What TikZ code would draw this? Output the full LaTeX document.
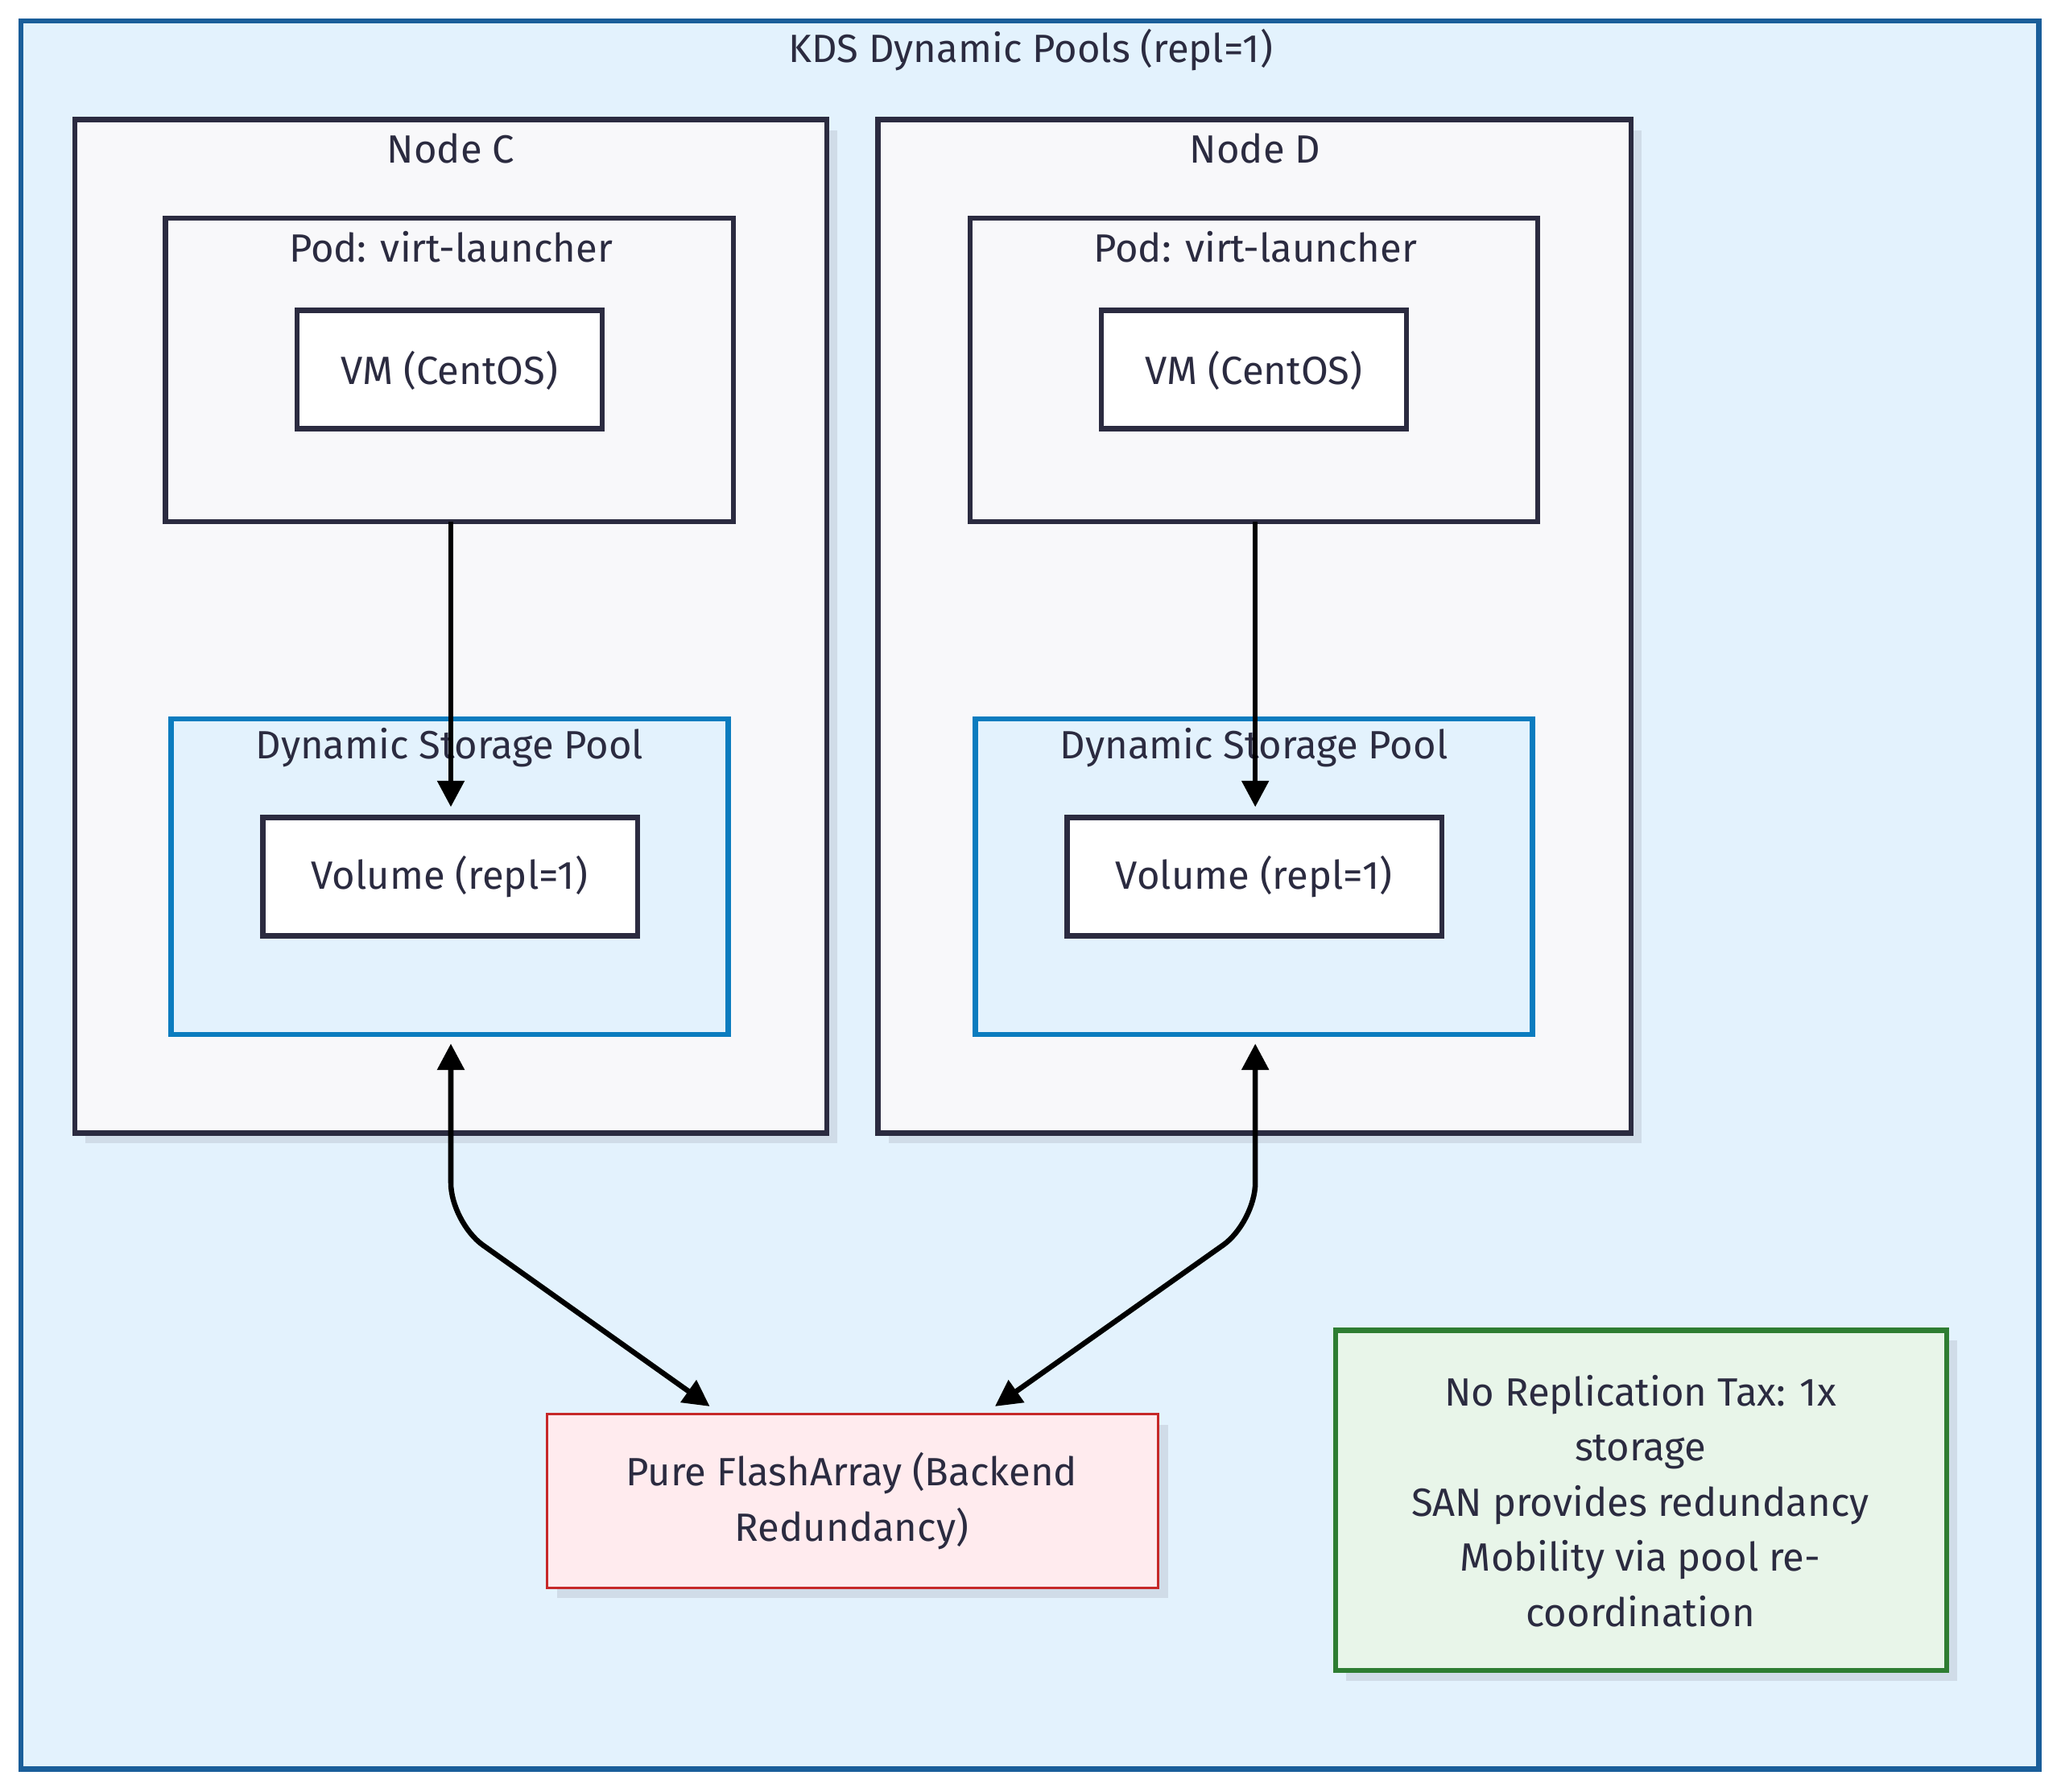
\documentclass[tikz,border=0pt]{standalone}
\usepackage{fontspec}
\setmainfont{Fira Sans}
\usetikzlibrary{arrows.meta}
\definecolor{outerfill}{HTML}{E3F2FD}
\definecolor{outerdraw}{HTML}{1A5E9A}
\definecolor{nodefill}{HTML}{F8F8FA}
\definecolor{dark}{HTML}{2B2B40}
\definecolor{pooldraw}{HTML}{0B7CBF}
\definecolor{shadow}{HTML}{D0DCE8}
\definecolor{fafill}{HTML}{FFEBEE}
\definecolor{fadraw}{HTML}{C62828}
\definecolor{notefill}{HTML}{E8F5E9}
\definecolor{notedraw}{HTML}{2E7D32}
\begin{document}
\begin{tikzpicture}[x=1pt,y=-1pt,
  lbl/.style={text=dark,font=\fontsize{30}{42}\selectfont},
  box/.style={draw=dark,line width=4pt},
  shad/.style={fill=shadow},
  arr/.style={line width=4pt,-{Triangle[length=20pt,width=20pt]}},
  barr/.style={line width=4pt,{Triangle[length=20pt,width=20pt]}-{Triangle[length=20pt,width=20pt]},rounded corners=30pt}]
\useasboundingbox (0,0) rectangle (1568,1363);
\fill[white] (0,0) rectangle (1568,1363);
% outer
\draw[fill=outerfill,draw=outerdraw,line width=4pt] (16,16) rectangle (1551,1346);
\node[lbl] (title) at (784,38) {KDS Dynamic Pools (repl=1)};
% shadows
\foreach \a/\b/\c/\d in {57/91/629/862,668/91/1241/862,126/166/558/397,738/166/1170/397,226/236/458/326,838/236/1070/326,130/547/554/787,742/547/1166/787,200/622/485/712,812/622/1097/712,416/1076/881/1208,1016/1012/1481/1271}
  \fill[shad] (\a+8,\b+8) rectangle (\c+8,\d+8);
% Node C
\draw[box,fill=nodefill] (57,91) rectangle (629,862);
\node[lbl] (nc) at (343,113) {Node C};
\draw[box,fill=nodefill] (126,166) rectangle (558,397);
\node[lbl] (podc) at (343,188) {Pod: virt-launcher};
\draw[box,fill=white] (226,236) rectangle (458,326);
\node[lbl] (vmc) at (342,282) {VM (CentOS)};
\draw[line width=4pt,draw=pooldraw,fill=outerfill] (130,547) rectangle (554,787);
\node[lbl] (poolc) at (342,569) {Dynamic Storage Pool};
\draw[box,fill=white] (200,622) rectangle (485,712);
\node[lbl] (volc) at (342,667) {Volume (repl=1)};
% Node D
\draw[box,fill=nodefill] (668,91) rectangle (1241,862);
\node[lbl] (nd) at (955,113) {Node D};
\draw[box,fill=nodefill] (738,166) rectangle (1170,397);
\node[lbl] (podd) at (955,188) {Pod: virt-launcher};
\draw[box,fill=white] (838,236) rectangle (1070,326);
\node[lbl] (vmd) at (954,282) {VM (CentOS)};
\draw[line width=4pt,draw=pooldraw,fill=outerfill] (742,547) rectangle (1166,787);
\node[lbl] (poold) at (954,569) {Dynamic Storage Pool};
\draw[box,fill=white] (812,622) rectangle (1097,712);
\node[lbl] (vold) at (954,667) {Volume (repl=1)};
% FlashArray
\draw[draw=fadraw,fill=fafill,line width=2pt] (416,1076) rectangle (881,1208);
\node[lbl,align=center] (fa) at (648,1142) {Pure FlashArray (Backend\\Redundancy)};
% note
\draw[draw=notedraw,fill=notefill,line width=4pt] (1016,1012) rectangle (1481,1271);
\node[lbl,align=center] (note) at (1248,1142) {No Replication Tax: 1x\\storage\\SAN provides redundancy\\Mobility via pool re-\\coordination};
% connectors
\coordinate (pcb) at (343,397); \coordinate (pct) at (343,614);
\coordinate (pdb) at (955,397); \coordinate (pdt) at (955,614);
\draw[arr] (pcb) -- (pct);
\draw[arr] (pdb) -- (pdt);
\coordinate (plc) at (343,794); \coordinate (fac) at (540,1070);
\coordinate (pld) at (955,794); \coordinate (fad) at (757,1070);
\draw[barr] (plc) -- (343,930) -- (fac);
\draw[barr] (pld) -- (955,930) -- (fad);
\end{tikzpicture}
\end{document}
